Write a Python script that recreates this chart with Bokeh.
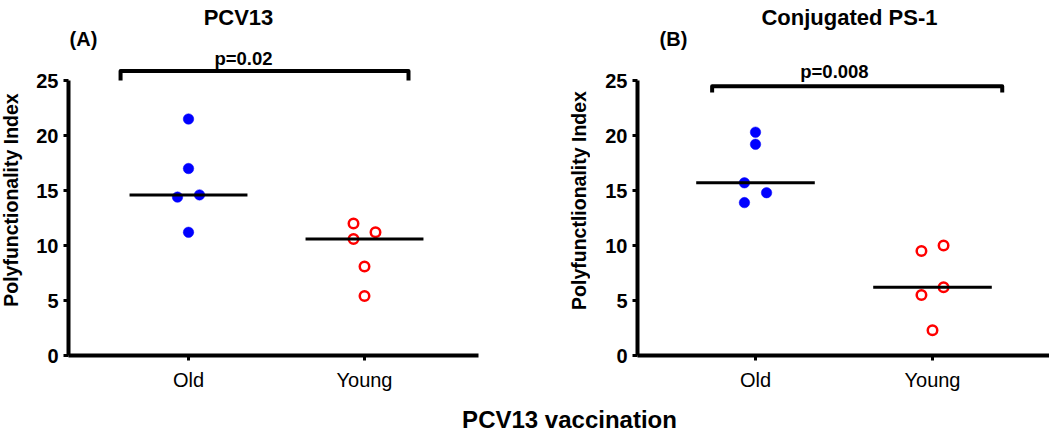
import numpy as np
from bokeh.plotting import figure
from bokeh.models import Range1d, FixedTicker, Label
from bokeh.layouts import row, column
from bokeh.embed import file_html
from bokeh.resources import INLINE

# ---------------- data ----------------
categories = ["Old", "Young"]
panel_titles = ["PCV13", "Conjugated PS-1"]
panel_tags = ["(A)", "(B)"]
y_labels = ["Polyfunctionality Index", "Polyfunctlionality Index"]
p_values = ["p=0.02", "p=0.008"]
x_title = "PCV13 vaccination"
y_ticks = [0, 5, 10, 15, 20, 25]

pcv13_old = [21.5, 17.0, 14.6, 14.4, 11.2]
pcv13_young = [12.0, 11.2, 10.6, 8.1, 5.4]
ps1_old = [20.3, 19.2, 15.7, 14.8, 13.9]
ps1_young = [10.0, 9.5, 6.2, 5.5, 2.3]

# ---------------- style ----------------
FONT = "Liberation Sans"
BLUE = "#0000FF"
RED = "#FF0000"
FRAME_H = 355          # px from top of figure to x axis
FIG_H = FRAME_H + 40
PX_PER_UNIT_Y = 11.0


def swarm_offsets(values, gap=1.0, step=0.0625):
    """Simple beeswarm: overlapping runs alternate left / right."""
    vals = np.asarray(values, dtype=float)
    order = np.argsort(vals)
    offs = np.zeros(len(vals))
    clusters, cur = [], [order[0]]
    for a, b in zip(order[:-1], order[1:]):
        if vals[b] - vals[a] < gap:
            cur.append(b)
        else:
            clusters.append(cur)
            cur = [b]
    clusters.append(cur)
    for cl in clusters:
        if len(cl) > 1:
            for k, idx in enumerate(cl):
                offs[idx] = -step if k % 2 == 0 else step
    return offs


def text_strip(width, height, text, x, y, size, angle=0.0, align="center"):
    """A bare figure whose data units are pixels, holding one text."""
    f = figure(width=width, height=height, output_backend="svg",
               toolbar_location=None, x_range=Range1d(0, width),
               y_range=Range1d(0, height), x_axis_location=None,
               y_axis_location=None, min_border=0)
    f.outline_line_color = None
    f.grid.visible = False
    f.add_layout(Label(x=x, y=y, text=text, angle=angle, text_align=align,
                       text_baseline="middle", text_font=FONT,
                       text_font_style="bold", text_font_size=size,
                       text_color="black"))
    return f


def make_panel(old, young, title, tag, ptext, width, x_start, x_end,
               min_left, min_right, title_x, tag_x, p_x, p_y,
               br_x0, br_x1, br_top, br_tip):
    p = figure(width=width, height=FIG_H, output_backend="svg",
               toolbar_location=None,
               x_range=Range1d(x_start, x_end),
               y_range=Range1d(0, FRAME_H / PX_PER_UNIT_Y),
               min_border_left=min_left, min_border_right=min_right,
               min_border_top=0, min_border_bottom=40)
    p.outline_line_color = None
    p.grid.visible = False
    p.background_fill_color = "white"

    for i, (vals, color, filled) in enumerate([(old, BLUE, True), (young, RED, False)]):
        pos = i + 1
        xs = pos + swarm_offsets(vals)
        if filled:
            p.scatter(xs, vals, marker="circle", size=10.5, fill_color=color,
                      line_color=color, line_width=0.5)
        else:
            p.scatter(xs, vals, marker="circle", size=9.5, fill_color=None,
                      line_color=color, line_width=2.5)
        med = float(np.median(vals))
        p.segment(x0=[pos - 0.335], x1=[pos + 0.335], y0=[med], y1=[med],
                  line_color="black", line_width=3)

    # significance bracket
    p.line([br_x0, br_x0, br_x1, br_x1], [br_tip, br_top, br_top, br_tip],
           line_color="black", line_width=4, line_join="round")

    # axes
    xa = p.xaxis[0]
    xa.ticker = FixedTicker(ticks=[1, 2])
    xa.major_label_overrides = {k + 1: c for k, c in enumerate(categories)}
    xa.minor_tick_line_color = None
    ya = p.yaxis[0]
    ya.ticker = FixedTicker(ticks=y_ticks)
    ya.bounds = (y_ticks[0], y_ticks[-1])
    ya.minor_tick_line_color = None
    for ax in (xa, ya):
        ax.axis_line_width = 4
        ax.axis_line_color = "black"
        ax.major_tick_line_width = 3
        ax.major_tick_line_color = "black"
        ax.major_tick_out = 5
        ax.major_tick_in = 0
        ax.major_label_text_font = FONT
        ax.major_label_text_color = "black"
        ax.major_label_standoff = 5
    xa.major_label_standoff = 8
    xa.major_label_text_font_size = "20px"
    xa.major_label_text_font_style = "normal"
    ya.major_label_text_font_size = "20px"
    ya.major_label_text_font_style = "bold"

    # texts
    p.add_layout(Label(x=title_x, y=30.75, text=title, text_align="center",
                       text_baseline="alphabetic", text_font=FONT,
                       text_font_style="bold", text_font_size="22px",
                       text_color="black"))
    p.add_layout(Label(x=tag_x, y=28.8, text=tag, text_align="left",
                       text_baseline="alphabetic", text_font=FONT,
                       text_font_style="bold", text_font_size="20px",
                       text_color="black"))
    p.add_layout(Label(x=p_x, y=p_y, text=ptext, text_align="center",
                       text_baseline="alphabetic", text_font=FONT,
                       text_font_style="bold", text_font_size="18.5px",
                       text_color="black"))
    return p


# y-axis titles (own strips so they can sit where the reference has them)
yA = text_strip(28, FIG_H, y_labels[0], x=10, y=FIG_H - 222, size="19.5px",
                angle=np.pi / 2)
yB = text_strip(65, FIG_H, y_labels[1], x=53, y=FIG_H - 222.5, size="19.5px",
                angle=np.pi / 2)

pA = make_panel(pcv13_old, pcv13_young, panel_titles[0], panel_tags[0],
                p_values[0], width=497, x_start=1 - 120 / 176, x_end=2 + 114 / 176,
                min_left=40, min_right=47, title_x=1.284, tag_x=0.324,
                p_x=1.3125, p_y=27.0, br_x0=0.614, br_x1=2.25,
                br_top=25.86, br_tip=25.0)
pB = make_panel(ps1_old, ps1_young, panel_titles[1], panel_tags[1],
                p_values[1], width=459, x_start=1 - 118 / 177, x_end=2 + 117 / 177,
                min_left=47, min_right=0, title_x=1.531, tag_x=0.458,
                p_x=1.446, p_y=25.8, br_x0=0.755, br_x1=2.394,
                br_top=24.47, br_tip=23.9)

# bottom common x label
pX = text_strip(1049, 40, x_title, x=569, y=16.5, size="24px")

layout = column(row(yA, pA, yB, pB, spacing=0), pX, spacing=0)
open("out.html", "w").write(file_html(layout, INLINE))
